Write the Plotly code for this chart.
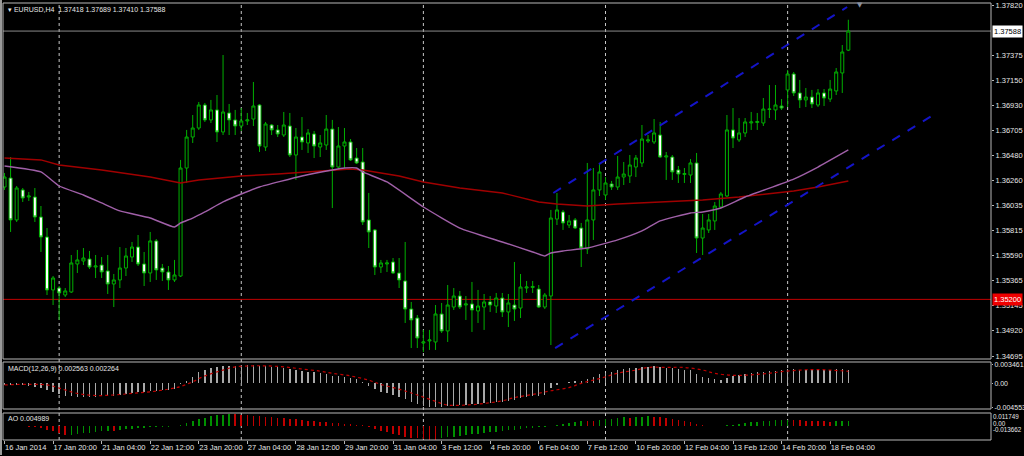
import plotly.graph_objects as go

# ---------------- data ----------------
bar_idx = list(range(140))  # H4 bars from 16 Jan 2014 12:00

open_ = [1.36200,1.36280,1.35907,1.36174,1.36111,1.36111,1.35933,1.35755,1.35284,1.35301,
         1.35239,1.35266,1.35515,1.35542,1.35559,1.35488,1.35506,1.35453,1.35337,1.35373,
         1.35479,1.35577,1.35666,1.35515,1.35435,1.35720,1.35479,1.35444,1.35373,1.35408,
         1.36369,1.36645,1.36725,1.36930,1.36797,1.36886,1.36690,1.36859,1.36797,1.36743,
         1.36788,1.36805,1.36930,1.36556,1.36752,1.36708,1.36663,1.36743,1.36485,1.36645,
         1.36592,1.36672,1.36556,1.36574,1.36716,1.36378,1.36565,1.36601,1.36458,1.36423,
         1.35907,1.35818,1.35488,1.35515,1.35533,1.35435,1.35364,1.35114,1.35034,1.34812,
         1.34830,1.34821,1.35070,1.34919,1.35132,1.35230,1.35150,1.35159,1.35097,1.35132,
         1.35177,1.35141,1.35212,1.35088,1.35150,1.35123,1.35301,1.35306,1.35292,1.35132,
         1.35230,1.35915,1.35978,1.35862,1.35907,1.35835,1.35648,1.35907,1.36174,1.36129,
         1.36227,1.36200,1.36289,1.36298,1.36378,1.36414,1.36610,1.36601,1.36663,1.36467,
         1.36467,1.36352,1.36312,1.36307,1.36414,1.35746,1.35818,1.35898,1.36022,1.36120,
         1.36708,1.36619,1.36681,1.36770,1.36774,1.36770,1.36890,1.36886,1.36921,1.37064,
         1.37206,1.37037,1.36975,1.37001,1.36930,1.37037,1.36983,1.37055,1.37215,1.37418]
high = [1.36325,1.36467,1.36209,1.36191,1.36156,1.36191,1.36031,1.35835,1.35408,1.35319,
        1.35301,1.35595,1.35640,1.35657,1.35631,1.35595,1.35577,1.35595,1.35426,1.35666,
        1.35657,1.35711,1.35773,1.35622,1.35800,1.35737,1.35515,1.35497,1.35551,1.36441,
        1.36708,1.36841,1.36957,1.36948,1.36975,1.37019,1.37375,1.36939,1.36886,1.36903,
        1.36859,1.37135,1.36939,1.36779,1.36761,1.36752,1.36868,1.36859,1.36725,1.36823,
        1.36716,1.36699,1.36663,1.36841,1.36797,1.36734,1.36725,1.36627,1.36547,1.36547,
        1.36147,1.35826,1.35551,1.35551,1.35568,1.35568,1.35711,1.35177,1.35061,1.34928,
        1.34928,1.35150,1.35168,1.35328,1.35301,1.35275,1.35230,1.35355,1.35284,1.35248,
        1.35230,1.35257,1.35257,1.35248,1.35533,1.35426,1.35364,1.35364,1.35328,1.35257,
        1.35996,1.36147,1.35996,1.35951,1.35924,1.35880,1.36414,1.36369,1.36405,1.36289,
        1.36254,1.36476,1.36423,1.36485,1.36485,1.36752,1.36663,1.36805,1.36779,1.36512,
        1.36485,1.36387,1.36369,1.36449,1.36503,1.35960,1.35960,1.36067,1.36156,1.36841,
        1.36903,1.36814,1.36814,1.36868,1.36859,1.36992,1.37108,1.37108,1.36983,1.37242,
        1.37224,1.37153,1.37081,1.37064,1.37072,1.37072,1.37153,1.37259,1.37464,1.37689]
low = [1.36174,1.35800,1.35889,1.36067,1.36076,1.35889,1.35622,1.35239,1.35150,1.35017,
       1.35221,1.35257,1.35435,1.35506,1.35470,1.35390,1.35390,1.35248,1.35132,1.35301,
       1.35408,1.35533,1.35497,1.35319,1.35355,1.35373,1.35364,1.35284,1.35355,1.35399,
       1.36236,1.36592,1.36708,1.36779,1.36770,1.36601,1.36663,1.36663,1.36663,1.36699,
       1.36752,1.36743,1.36512,1.36521,1.36663,1.36645,1.36645,1.36467,1.36263,1.36530,
       1.36503,1.36458,1.36467,1.36530,1.36013,1.36352,1.36369,1.36432,1.36405,1.35862,
       1.35657,1.35417,1.35435,1.35444,1.35426,1.35301,1.34990,1.34767,1.34767,1.34732,
       1.34750,1.34750,1.34901,1.34821,1.35106,1.35114,1.35017,1.34910,1.34990,1.34928,
       1.35088,1.35079,1.35043,1.34954,1.35008,1.35034,1.35257,1.35257,1.35123,1.35114,
       1.34794,1.35862,1.35818,1.35835,1.35826,1.35488,1.35604,1.35729,1.36120,1.36085,
       1.36174,1.36174,1.36218,1.36236,1.36289,1.36378,1.36592,1.36583,1.36458,1.36263,
       1.36263,1.36236,1.36236,1.36236,1.35613,1.35595,1.35791,1.35818,1.36013,1.36111,
       1.36547,1.36601,1.36645,1.36708,1.36708,1.36743,1.36814,1.36797,1.36886,1.36912,
       1.37010,1.36903,1.36912,1.36903,1.36912,1.36921,1.36957,1.37019,1.37037,1.37410]
close = [1.36289,1.35907,1.36191,1.36102,1.36120,1.35933,1.35755,1.35284,1.35390,1.35257,
         1.35275,1.35524,1.35551,1.35568,1.35488,1.35497,1.35444,1.35337,1.35373,1.35479,
         1.35586,1.35666,1.35515,1.35435,1.35720,1.35462,1.35444,1.35373,1.35417,1.36369,
         1.36645,1.36725,1.36930,1.36797,1.36886,1.36690,1.36868,1.36797,1.36743,1.36788,
         1.36797,1.36921,1.36565,1.36761,1.36708,1.36672,1.36752,1.36485,1.36645,1.36601,
         1.36681,1.36565,1.36592,1.36716,1.36378,1.36565,1.36601,1.36441,1.36414,1.35889,
         1.35800,1.35488,1.35524,1.35524,1.35435,1.35373,1.35114,1.35017,1.34856,1.34821,
         1.34839,1.35070,1.34919,1.35150,1.35230,1.35132,1.35159,1.35106,1.35141,1.35177,
         1.35150,1.35212,1.35088,1.35168,1.35114,1.35310,1.35310,1.35315,1.35132,1.35239,
         1.35924,1.35996,1.35880,1.35898,1.35835,1.35657,1.35907,1.36174,1.36334,1.36236,
         1.36200,1.36289,1.36316,1.36396,1.36458,1.36627,1.36619,1.36681,1.36467,1.36476,
         1.36334,1.36316,1.36320,1.36414,1.35746,1.35835,1.35907,1.36031,1.36138,1.36708,
         1.36636,1.36681,1.36779,1.36779,1.36783,1.36894,1.36894,1.36930,1.36903,1.37206,
         1.37037,1.36975,1.37001,1.36939,1.37037,1.36992,1.37072,1.37224,1.37402,1.37588]

# moving averages (read at sample bars)
ma_slow_idx = [0, 6, 9, 16, 24, 29, 32, 39, 45, 52, 57, 59, 65, 69, 75, 82, 88, 91, 96, 101, 108, 115, 121, 130, 134, 139]
ma_slow = [1.36458, 1.36441, 1.36396, 1.36352, 1.36289, 1.36236, 1.36263, 1.36298, 1.36316, 1.36343,
           1.36360, 1.36352, 1.36298, 1.36245, 1.36191, 1.36147, 1.36067, 1.36049, 1.36031, 1.36049,
           1.36067, 1.36085, 1.36111, 1.36165, 1.36200, 1.36254]
ma_fast_idx = [0, 6, 9, 13, 16, 19, 24, 28, 29, 31, 33, 36, 39, 42, 49, 54, 56, 58, 59, 63, 69, 75, 82, 87,
               89, 90, 92, 96, 101, 105, 108, 113, 115, 118, 122, 130, 134, 139]
ma_fast = [1.36387, 1.36334, 1.36209, 1.36129, 1.36058, 1.35987, 1.35924, 1.35844, 1.35880, 1.35924,
           1.35978, 1.36067, 1.36138, 1.36200, 1.36298, 1.36352, 1.36369, 1.36369, 1.36334, 1.36245,
           1.36022, 1.35835, 1.35711, 1.35622, 1.35586, 1.35613, 1.35631, 1.35657, 1.35729, 1.35809,
           1.35898, 1.35969, 1.35978, 1.36013, 1.36111, 1.36271, 1.36378, 1.36530]

# equidistant channel (anchor bars / prices)
chan_up_x = [90.4, 138.8]
chan_up_y = [1.36147, 1.37802]
chan_lo_x = [90.7, 153.8]
chan_lo_y = [1.34767, 1.36868]

level_price = 1.35200
week_starts = [9, 39, 69, 99, 129]

macd = [-0.00031,-0.00031,-0.00031,-0.00031,-0.00044,-0.00063,-0.00082,-0.00126,-0.00170,-0.00208,
        -0.00233,-0.00245,-0.00252,-0.00252,-0.00252,-0.00252,-0.00245,-0.00239,-0.00233,-0.00220,
        -0.00208,-0.00189,-0.00170,-0.00157,-0.00145,-0.00138,-0.00126,-0.00120,-0.00113,-0.00019,
        0.00044,0.00126,0.00208,0.00252,0.00296,0.00308,0.00321,0.00327,0.00333,0.00340,
        0.00340,0.00346,0.00333,0.00327,0.00315,0.00302,0.00296,0.00270,0.00252,0.00233,
        0.00220,0.00208,0.00189,0.00176,0.00145,0.00132,0.00113,0.00094,0.00075,0.00019,
        -0.00044,-0.00107,-0.00157,-0.00189,-0.00220,-0.00252,-0.00296,-0.00346,-0.00396,-0.00428,
        -0.00447,-0.004553,-0.00447,-0.00428,-0.00421,-0.00409,-0.00403,-0.00396,-0.00384,-0.00377,
        -0.00365,-0.00352,-0.00346,-0.00327,-0.00315,-0.00283,-0.00264,-0.00245,-0.00233,-0.00220,
        -0.00094,-0.00031,0.00006,0.00031,0.00044,0.00044,0.00082,0.00126,0.00170,0.00195,
        0.00220,0.00245,0.00264,0.00283,0.00296,0.00315,0.00315,0.00321,0.00308,0.00296,
        0.00283,0.00264,0.00252,0.00245,0.00170,0.00126,0.00094,0.00075,0.00063,0.00107,
        0.00132,0.00157,0.00176,0.00195,0.00208,0.00220,0.00233,0.00239,0.00245,0.00264,
        0.00264,0.00258,0.00258,0.00252,0.00258,0.00258,0.00258,0.00264,0.00264,0.002563]
signal_idx = [0, 7, 9, 12, 15, 18, 21, 24, 27, 29, 31, 33, 36, 38, 41, 43, 46, 49, 52, 54, 57, 60, 62, 65,
              68, 71, 73, 76, 79, 82, 84, 87, 90, 93, 95, 98, 101, 104, 106, 109, 112, 115, 117, 120,
              123, 126, 128, 131, 134, 139]
signal = [-0.0003, -0.0003, -0.0009, -0.0019, -0.0023, -0.0022, -0.0019, -0.0016, -0.0011, -0.0006,
          0.0003, 0.0014, 0.0025, 0.0031, 0.0033, 0.0033, 0.0031, 0.0027, 0.0023, 0.0019,
          0.0014, 0.0006, -0.0002, -0.0011, -0.0022, -0.0034, -0.0041, -0.0041, -0.0038, -0.0033,
          -0.0027, -0.0021, -0.0014, -0.0008, 0.0000, 0.0009, 0.0019, 0.0025, 0.0030, 0.0030,
          0.0030, 0.0025, 0.0019, 0.0015, 0.0016, 0.0019, 0.0022, 0.0025, 0.0026, 0.002264]

ao = [0.0002,0.0001,0.0000,-0.0003,-0.0006,-0.0012,-0.0020,-0.0035,-0.0050,-0.0070,
      -0.0088,-0.0085,-0.0080,-0.0072,-0.0065,-0.0058,-0.0052,-0.0045,-0.0047,-0.0038,
      -0.0030,-0.0025,-0.0020,-0.0016,-0.0012,-0.0009,-0.0007,-0.0005,-0.0003,0.0008,
      0.0025,0.0045,0.0065,0.0082,0.0095,0.0105,0.0112,0.011749,0.0114,0.0110,
      0.0106,0.0102,0.0097,0.0092,0.0087,0.0082,0.0077,0.0071,0.0065,0.0058,
      0.0052,0.0046,0.0040,0.0035,0.0030,0.0025,0.0020,0.0016,0.0012,0.0005,
      -0.0012,-0.0030,-0.0048,-0.0062,-0.0078,-0.0092,-0.0105,-0.0114,-0.0121,-0.0128,
      -0.0134,-0.013662,-0.0121,-0.0111,-0.0105,-0.0095,-0.0088,-0.0082,-0.0075,-0.0069,
      -0.0062,-0.0056,-0.0049,-0.0043,-0.0036,-0.0029,-0.0023,-0.0016,-0.0013,-0.0007,
      0.0003,0.0013,0.0023,0.0033,0.0042,0.0050,0.0047,0.0045,0.0055,0.0065,
      0.0072,0.0078,0.0085,0.0082,0.0088,0.0093,0.0095,0.0090,0.0085,0.0075,
      0.0065,0.0055,0.0045,0.0035,0.0022,0.0010,0.0003,0.0001,0.0000,0.0005,
      0.0012,0.0020,0.0028,0.0035,0.0042,0.0048,0.0052,0.0055,0.0058,0.0062,
      0.0058,0.0055,0.0052,0.0050,0.0048,0.0045,0.0043,0.0046,0.0048,0.004989]

price_ticks = [1.37820, 1.37375, 1.37150, 1.36930, 1.36705, 1.36480, 1.36260, 1.36035,
               1.35815, 1.35590, 1.35365, 1.35145, 1.34920, 1.34695]
macd_ticks = [0.003461, 0.0, -0.004553]
macd_tick_text = ["0.003461", "0.00", "-0.004553"]
ao_tick_text = ["0.011749", "0.00", "-0.013662"]

time_label_idx = list(range(0, 140, 8))
time_labels = ["16 Jan 2014", "17 Jan 20:00", "21 Jan 04:00", "22 Jan 12:00", "23 Jan 20:00",
               "27 Jan 04:00", "28 Jan 12:00", "29 Jan 20:00", "31 Jan 04:00", "3 Feb 12:00",
               "4 Feb 20:00", "6 Feb 04:00", "7 Feb 12:00", "10 Feb 20:00", "12 Feb 04:00",
               "13 Feb 12:00", "14 Feb 20:00", "18 Feb 04:00"]

# ---------------- layout helpers ----------------
W, H = 1024, 456
ML, MR, MT, MB = 3, 33, 3, 16
PW, PH = W - ML - MR, H - MT - MB
def py(y):
    return (H - MB - y) / PH
def px(x):
    return (x - ML) / PW

FONT = "Liberation Sans"
GREEN = "#00b000"
TXT = "#e6e6e6"
FRAME = "#b8b8b8"

fig = go.Figure()

fig.add_trace(go.Candlestick(
    x=bar_idx, open=open_, high=high, low=low, close=close,
    increasing=dict(line=dict(color=GREEN, width=1), fillcolor="#000000"),
    decreasing=dict(line=dict(color=GREEN, width=1), fillcolor="#ffffff"),
    whiskerwidth=0, showlegend=False, hoverinfo="skip", xaxis="x", yaxis="y"))

fig.add_trace(go.Scatter(x=ma_slow_idx, y=ma_slow, mode="lines",
                         line=dict(color="#a00000", width=1.4), showlegend=False,
                         hoverinfo="skip", xaxis="x", yaxis="y"))
fig.add_trace(go.Scatter(x=ma_fast_idx, y=ma_fast, mode="lines",
                         line=dict(color="#a060a8", width=1.4, shape="spline", smoothing=0.4),
                         showlegend=False, hoverinfo="skip", xaxis="x", yaxis="y"))
for cx, cy in ((chan_up_x, chan_up_y), (chan_lo_x, chan_lo_y)):
    fig.add_trace(go.Scatter(x=cx, y=cy, mode="lines",
                             line=dict(color="#1414c8", width=2, dash="dash"),
                             showlegend=False, hoverinfo="skip", xaxis="x", yaxis="y"))

fig.add_trace(go.Bar(x=bar_idx, y=macd, marker=dict(color="#a8a8a8", line=dict(width=0)),
                     width=0.22, showlegend=False, hoverinfo="skip", xaxis="x2", yaxis="y2"))
fig.add_trace(go.Scatter(x=signal_idx, y=signal, mode="lines",
                         line=dict(color="#c00000", width=1.2, dash="dot", shape="spline"),
                         showlegend=False, hoverinfo="skip", xaxis="x2", yaxis="y2"))

ao_colors = ["#009000" if (i == 0 or ao[i] >= ao[i - 1]) else "#c00000" for i in range(len(ao))]
fig.add_trace(go.Bar(x=bar_idx, y=ao, marker=dict(color=ao_colors, line=dict(width=0)),
                     width=0.26, showlegend=False, hoverinfo="skip", xaxis="x3", yaxis="y3"))

xr = [-0.25, 162.5]
axis_common = dict(showgrid=False, zeroline=False, showline=False)
fig.update_layout(
    width=W, height=H,
    margin=dict(l=ML, r=MR, t=MT, b=MB),
    paper_bgcolor="#000000", plot_bgcolor="#000000",
    bargap=0, boxgap=0.45, boxgroupgap=0.1,
    font=dict(family=FONT, size=7.5, color=TXT),
    xaxis=dict(domain=[0, 1], range=xr, anchor="y", showticklabels=False,
               rangeslider=dict(visible=False), **axis_common),
    xaxis2=dict(domain=[0, 1], range=xr, anchor="y2", matches="x", showticklabels=False, **axis_common),
    xaxis3=dict(domain=[0, 1], range=xr, anchor="y3", matches="x",
                tickmode="array", tickvals=time_label_idx, ticktext=time_labels, tickangle=0,
                ticks="outside", ticklen=3, tickcolor=FRAME, ticklabelposition="outside right",
                automargin=False,
                tickfont=dict(family=FONT, size=7.5, color=TXT), **axis_common),
    yaxis=dict(domain=[py(359), 1], range=[1.346694, 1.378378], side="right", anchor="x",
               tickmode="array", tickvals=price_ticks, ticktext=[f"{v:.5f}" for v in price_ticks],
               ticks="outside", ticklen=2, tickcolor=FRAME, automargin=False,
               tickfont=dict(family=FONT, size=7.5, color=TXT), **axis_common),
    yaxis2=dict(domain=[py(409), py(362)], range=[-0.004843, 0.004026], side="right", anchor="x2",
                tickmode="array", tickvals=macd_ticks, ticktext=macd_tick_text,
                ticks="outside", ticklen=1, tickcolor=FRAME, automargin=False,
                tickfont=dict(family=FONT, size=7, color=TXT), **axis_common),
    yaxis3=dict(domain=[0, py(413)], range=[-0.01373, 0.01275], side="right", anchor="x3",
                showticklabels=False, automargin=False, **axis_common),
)

shapes = []
# panel frames
for y0, y1 in ((py(359), 1), (py(409), py(362)), (0, py(413))):
    shapes.append(dict(type="rect", xref="paper", yref="paper", x0=0, x1=1, y0=y0, y1=y1,
                       line=dict(color=FRAME, width=1), layer="above"))
# outer window border left
shapes.append(dict(type="line", xref="paper", yref="paper", x0=px(1), x1=px(1), y0=py(455), y1=py(0),
                   line=dict(color="#9a9a9a", width=2)))
# weekly separators
for ws in week_starts:
    shapes.append(dict(type="line", xref="x", yref="paper", x0=ws, x1=ws, y0=0, y1=1,
                       line=dict(color="#c8c8c8", width=1, dash="dot"), layer="below"))
# horizontal level and bid line
shapes.append(dict(type="line", xref="paper", yref="y", x0=0, x1=1, y0=level_price, y1=level_price,
                   line=dict(color="#c00000", width=1), layer="below"))
shapes.append(dict(type="line", xref="paper", yref="y", x0=0, x1=1, y0=close[-1], y1=close[-1],
                   line=dict(color="#8a8a8a", width=1), layer="below"))
fig.update_layout(shapes=shapes)

ann = []
ann.append(dict(xref="paper", yref="paper", x=px(6), y=py(10), xanchor="left", yanchor="middle",
                text=f"▾ EURUSD,H4  {open_[-1]:.5f} {high[-1]:.5f} {low[-1]:.5f} {close[-1]:.5f}",
                showarrow=False, font=dict(family=FONT, size=7, color=TXT)))
ann.append(dict(xref="paper", yref="paper", x=px(6), y=py(369), xanchor="left", yanchor="middle",
                text=f"MACD(12,26,9) {macd[-1]:.6f} {signal[-1]:.6f}",
                showarrow=False, font=dict(family=FONT, size=7, color=TXT)))
ann.append(dict(xref="paper", yref="paper", x=px(6), y=py(418), xanchor="left", yanchor="middle",
                text=f"AO {ao[-1]:.6f}",
                showarrow=False, font=dict(family=FONT, size=7, color=TXT)))
# AO scale labels (squeezed like the terminal)
for txt, yy in zip(ao_tick_text, (416.5, 423, 429.5)):
    ann.append(dict(xref="paper", yref="paper", x=px(992), y=py(yy), xanchor="left", yanchor="middle",
                    text=txt, showarrow=False, borderpad=0,
                    font=dict(family=FONT, size=6.3, color=TXT)))
# price labels on axis
ann.append(dict(xref="paper", yref="y", x=px(992), y=close[-1], xanchor="left", yanchor="middle",
                text=f"{close[-1]:.5f}", showarrow=False, bgcolor="#ffffff", borderpad=1,
                font=dict(family=FONT, size=7.5, color="#000000")))
ann.append(dict(xref="paper", yref="y", x=px(992), y=level_price, xanchor="left", yanchor="middle",
                text=f"{level_price:.5f}", showarrow=False, bgcolor="#ee0000", borderpad=1,
                font=dict(family=FONT, size=7.5, color="#ffffff")))
# chart shift marker
ann.append(dict(xref="paper", yref="paper", x=px(860), y=py(5), xanchor="center", yanchor="middle",
                text="▼", showarrow=False, font=dict(family="DejaVu Sans", size=7, color="#8890a0")))
fig.update_layout(annotations=ann)

fig.write_html("out.html",
               config={"displayModeBar": False, "staticPlot": True},
               post_script="document.body.style.margin='0';document.body.style.overflow='hidden';"
                           "document.documentElement.style.overflow='hidden';")
